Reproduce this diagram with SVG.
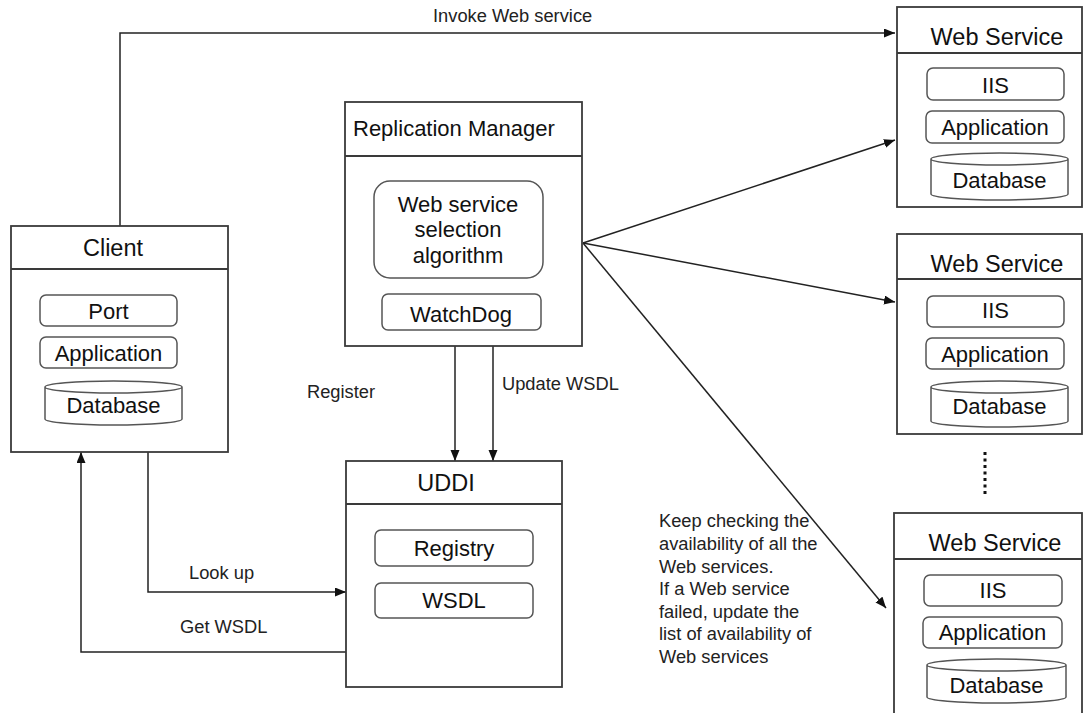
<svg xmlns="http://www.w3.org/2000/svg" width="1084" height="713" viewBox="0 0 1084 713">
<style>
.box{fill:#fff;stroke:#3a3a3a;stroke-width:1.8}
.hdr{stroke:#3a3a3a;stroke-width:1.8}
.item{fill:#fff;stroke:#555;stroke-width:1.5}
.t{font-family:"Liberation Sans",Arial,sans-serif;fill:#111}
.title{font-size:23.5px;text-anchor:middle}
.lt{font-size:22px}
.it{font-size:22px;text-anchor:middle}
.lbl{font-family:"Liberation Sans",Arial,sans-serif;font-size:18.3px;fill:#222}
.conn{fill:none;stroke:#222;stroke-width:1.5}
</style>
<defs>
<marker id="arr" markerUnits="userSpaceOnUse" markerWidth="12" markerHeight="10" refX="11" refY="4.5" orient="auto">
<path d="M0,0 L11,4.5 L0,9 z" fill="#111"/>
</marker>
</defs>
<rect width="1084" height="713" fill="#fff"/>

<g id="connectors">
<polyline class="conn" points="120,226 120,33 895,33" marker-end="url(#arr)"/>
<line class="conn" x1="583" y1="243" x2="895" y2="140" marker-end="url(#arr)"/>
<line class="conn" x1="583" y1="243" x2="895" y2="302" marker-end="url(#arr)"/>
<line class="conn" x1="583" y1="243" x2="886" y2="608" marker-end="url(#arr)"/>
<line class="conn" x1="455" y1="346" x2="455" y2="461" marker-end="url(#arr)"/>
<line class="conn" x1="493" y1="346" x2="493" y2="461" marker-end="url(#arr)"/>
<polyline class="conn" points="148,452 148,592 346,592" marker-end="url(#arr)"/>
<polyline class="conn" points="346,652 81,652 81,452" marker-end="url(#arr)"/>
<text class="lbl" x="433" y="22">Invoke Web service</text>
<text class="lbl" x="307" y="398">Register</text>
<text class="lbl" x="502" y="390">Update WSDL</text>
<text class="lbl" x="189" y="579">Look up</text>
<text class="lbl" x="180" y="633">Get WSDL</text>
<text class="lbl" x="659" y="527">Keep checking the</text>
<text class="lbl" x="659" y="550">availability of all the</text>
<text class="lbl" x="659" y="573">Web services.</text>
<text class="lbl" x="659" y="595">If a Web service</text>
<text class="lbl" x="659" y="618">failed, update the</text>
<text class="lbl" x="659" y="640">list of availability of</text>
<text class="lbl" x="659" y="663">Web services</text>
<line x1="985" y1="452" x2="985" y2="495" stroke="#111" stroke-width="3" stroke-dasharray="3,3.5"/>
</g>

<g id="client">
<rect class="box" x="11" y="226" width="217" height="226"/>
<line class="hdr" x1="11" y1="269" x2="228" y2="269"/>
<text class="t title" x="113" y="256">Client</text>
<rect class="item" x="40" y="295" width="137" height="31" rx="6"/>
<text class="t it" x="108.5" y="319">Port</text>
<rect class="item" x="40" y="337" width="137" height="31" rx="6"/>
<text class="t it" x="108.5" y="361">Application</text>
<path class="item" d="M45,387 A68.5,6 0 0,1 182,387 V419 A68.5,6 0 0,1 45,419 Z M45,387 A68.5,6 0 0,0 182,387"/>
<text class="t it" x="113.5" y="413">Database</text>
</g>

<g id="replication-manager">
<rect class="box" x="345" y="102" width="237" height="244"/>
<line class="hdr" x1="345" y1="156" x2="582" y2="156"/>
<text class="t lt" x="353" y="136">Replication Manager</text>
<rect class="item" x="374" y="181" width="169" height="97" rx="16"/>
<text class="t it" x="458" y="212">Web service</text>
<text class="t it" x="458" y="237">selection</text>
<text class="t it" x="458" y="263">algorithm</text>
<rect class="item" x="382" y="294" width="159" height="36" rx="6"/>
<text class="t it" x="461" y="322">WatchDog</text>
</g>

<g id="uddi">
<rect class="box" x="346" y="461" width="216" height="226"/>
<line class="hdr" x1="346" y1="504" x2="562" y2="504"/>
<text class="t title" x="446" y="491">UDDI</text>
<rect class="item" x="375" y="530" width="158" height="36" rx="6"/>
<text class="t it" x="454" y="556">Registry</text>
<rect class="item" x="375" y="583" width="158" height="35" rx="6"/>
<text class="t it" x="454" y="608">WSDL</text>
</g>

<g id="web-service-1">
<rect class="box" x="897" y="7" width="185" height="200"/>
<line class="hdr" x1="897" y1="53" x2="1082" y2="53"/>
<text class="t title" x="997" y="45">Web Service</text>
<rect class="item" x="927" y="68" width="137" height="32" rx="6"/>
<text class="t it" x="995.5" y="93">IIS</text>
<rect class="item" x="926" y="111" width="138" height="32" rx="6"/>
<text class="t it" x="995" y="135">Application</text>
<path class="item" d="M931,159 A68.5,6 0 0,1 1068,159 V194 A68.5,6 0 0,1 931,194 Z M931,159 A68.5,6 0 0,0 1068,159"/>
<text class="t it" x="999.5" y="188">Database</text>
</g>

<g id="web-service-2">
<rect class="box" x="897" y="234" width="185" height="200"/>
<line class="hdr" x1="897" y1="279" x2="1082" y2="279"/>
<text class="t title" x="997" y="272">Web Service</text>
<rect class="item" x="927" y="296" width="137" height="31" rx="6"/>
<text class="t it" x="995.5" y="318">IIS</text>
<rect class="item" x="926" y="338" width="138" height="31" rx="6"/>
<text class="t it" x="995" y="362">Application</text>
<path class="item" d="M931,387 A68.5,6 0 0,1 1068,387 V421 A68.5,6 0 0,1 931,421 Z M931,387 A68.5,6 0 0,0 1068,387"/>
<text class="t it" x="999.5" y="414">Database</text>
</g>

<g id="web-service-3">
<rect class="box" x="894" y="513" width="188" height="210"/>
<line class="hdr" x1="894" y1="559" x2="1082" y2="559"/>
<text class="t title" x="995" y="551">Web Service</text>
<rect class="item" x="924" y="575" width="138" height="31" rx="6"/>
<text class="t it" x="993" y="598">IIS</text>
<rect class="item" x="923" y="617" width="139" height="31" rx="6"/>
<text class="t it" x="992.5" y="640">Application</text>
<path class="item" d="M927,665 A69.5,6 0 0,1 1066,665 V697 A69.5,6 0 0,1 927,697 Z M927,665 A69.5,6 0 0,0 1066,665"/>
<text class="t it" x="996.5" y="693">Database</text>
</g>
</svg>
